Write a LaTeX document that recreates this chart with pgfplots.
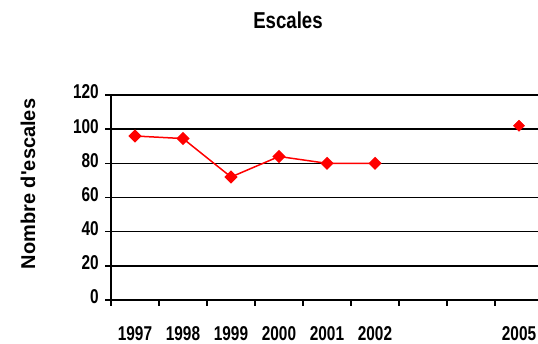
\documentclass[border=0pt]{standalone}
\usepackage{fontspec}
\setmainfont{Liberation Sans}
\newfontfamily\ticksfont{Liberation Sans}[FakeStretch=0.77]
\newfontfamily\titlefont{Liberation Sans}[FakeStretch=0.81]
\newfontfamily\ylabfont{Liberation Sans}[FakeStretch=1.0]
\usepackage{pgfplots}
\pgfplotsset{compat=1.18}
\begin{document}
\begin{tikzpicture}
\useasboundingbox (0,0) rectangle (538pt,344pt);
\clip (0,0) rectangle (538pt,344pt);
\begin{axis}[
  at={(111pt,44pt)}, anchor=south west,
  scale only axis, width=432pt, height=205pt,
  xmin=1996.5, xmax=2005.5,
  ymin=0, ymax=120,
  axis x line=bottom, axis y line=left,
  axis line style={-, black, line width=2pt},
  xtick={1997,1998,1999,2000,2001,2002,2005},
  xticklabels={1997,1998,1999,2000,2001,2002,2005},
  minor xtick={1996.5,1997.5,1998.5,1999.5,2000.5,2001.5,2002.5,2003.5,2004.5},
  ytick={0,20,40,60,80,100,120},
  tick align=outside,
  major tick length=6pt, minor tick length=6pt,
  major x tick style={draw=none},
  minor x tick style={black, line width=1.5pt},
  major y tick style={black, line width=1.5pt},
  ymajorgrids,
  major grid style={black, line width=1.6pt},
  /pgf/number format/assume math mode=true,
  ticklabel style={font=\ticksfont\bfseries\fontsize{20}{20}\selectfont, inner sep=0pt},
  xticklabel style={anchor=base, yshift=-35pt},
  yticklabel style={anchor=east, xshift=-6pt, yshift=3pt},
  title={Escales},
  every axis title/.style={at={(axis description cs:0.4097,1.322)}, anchor=base, font=\titlefont\bfseries\fontsize{23}{23}\selectfont},
  ylabel={Nombre d'escales},
  every axis y label/.style={at={(axis description cs:-0.1759,0.566)}, rotate=90, anchor=base, font=\ylabfont\bfseries\fontsize{20}{20}\selectfont},
  clip=false,
]
\addplot[red, line width=1.5pt, mark=square*, mark size=3.9pt, mark options={rotate=45, solid, fill=red}]
  coordinates {(1997,96) (1998,94.5) (1999,72) (2000,84) (2001,80) (2002,80)};
\addplot[red, only marks, mark=square*, mark size=3.9pt, mark options={rotate=45, fill=red}]
  coordinates {(2005,102)};
\end{axis}
\end{tikzpicture}
\end{document}
